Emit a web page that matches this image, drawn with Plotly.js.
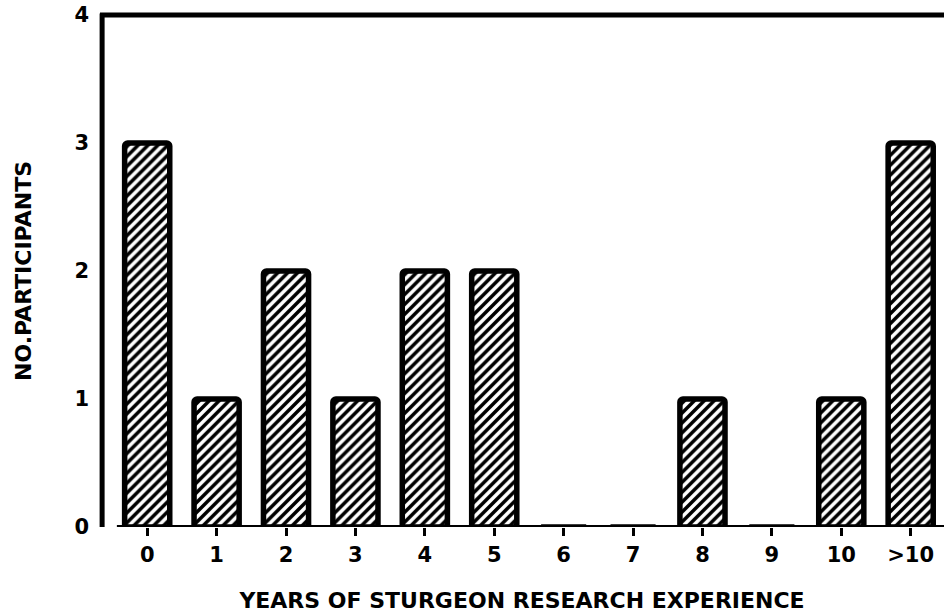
<!DOCTYPE html>
<html>
<head>
<meta charset="utf-8">
<script src="https://cdn.plot.ly/plotly-3.0.1.min.js"></script>
<style>
  html, body { margin: 0; padding: 0; background: #fff; }
  #chart { width: 944px; height: 616px; }
</style>
</head>
<body>
<div id="chart"></div>
<script>
const categories = ["0", "1", "2", "3", "4", "5", "6", "7", "8", "9", "10", ">10"];
const participants = [3, 1, 2, 1, 2, 2, 0, 0, 1, 0, 1, 3];
const yTickValues = [0, 1, 2, 3, 4];
const yTickLabels = ["0", "1", "2", "3", "4"];

const FONT = "DejaVu Sans, Liberation Sans, Arial, sans-serif";

const trace = {
  type: "bar",
  x: categories,
  y: participants,
  marker: {
    color: "#ffffff",
    line: { color: "#000000", width: 5.5 },
    cornerradius: 3,
    pattern: { shape: "/", fgcolor: "#000000", bgcolor: "#ffffff", size: 7, solidity: 0.5, fillmode: "replace" }
  },
  hoverinfo: "skip"
};

const layout = {
  width: 944,
  height: 616,
  margin: { l: 100, r: 0, t: 15, b: 89 },
  paper_bgcolor: "#ffffff",
  plot_bgcolor: "#ffffff",
  showlegend: false,
  bargap: 0.35,
  font: { family: FONT, color: "#000000" },
  xaxis: {
    type: "category",
    range: [-0.68, 11.48],
    showline: false,
    showgrid: false,
    zeroline: false,
    ticks: "outside",
    ticklen: 8,
    tickwidth: 3,
    tickcolor: "#000000",
    ticklabelstandoff: 1,
    tickfont: { size: 21, family: FONT, weight: "bold", color: "#000000" },
    title: {
      text: "YEARS OF STURGEON RESEARCH EXPERIENCE",
      font: { size: 22, family: FONT, weight: "bold", color: "#000000" },
      standoff: 26
    },
    automargin: false,
    fixedrange: true
  },
  yaxis: {
    range: [0, 4],
    tickvals: yTickValues,
    ticktext: yTickLabels,
    showline: false,
    showgrid: false,
    zeroline: false,
    ticks: "",
    ticklabelstandoff: 10,
    tickfont: { size: 21, family: FONT, weight: "bold", color: "#000000" },
    title: {
      text: "NO.PARTICIPANTS",
      font: { size: 22, family: FONT, weight: "bold", color: "#000000" },
      standoff: 36
    },
    automargin: false,
    fixedrange: true
  },
  shapes: [
    { type: "line", xref: "paper", yref: "paper", x0: 0.0025, x1: 0.0025, y0: 0, y1: 1.003, line: { color: "#000000", width: 5 } },
    { type: "line", xref: "paper", yref: "paper", x0: 0, x1: 1, y0: 1, y1: 1, line: { color: "#000000", width: 5 } },
    { type: "line", xref: "paper", yref: "y", x0: 0.02, x1: 1, y0: 0, y1: 0, line: { color: "#000000", width: 4 }, layer: "above" }
  ]
};

Plotly.newPlot("chart", [trace], layout, { displayModeBar: false, staticPlot: true });
</script>
</body>
</html>
